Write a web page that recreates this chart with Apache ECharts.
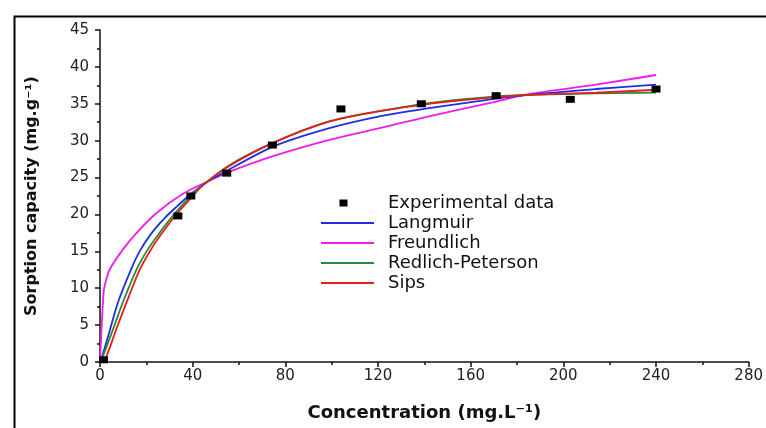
<!DOCTYPE html>
<html>
<head>
<meta charset="utf-8">
<script src="https://cdn.jsdelivr.net/npm/echarts@6/dist/echarts.min.js"></script>
<style>
html,body{margin:0;padding:0;background:#fff;}
#chart{width:766px;height:428px;}
</style>
</head>
<body>
<div id="chart"></div>
<script>
// ---- data ----
const xTicks = [0, 40, 80, 120, 160, 200, 240, 280];
const yTicks = [0, 5, 10, 15, 20, 25, 30, 35, 40, 45];

const experimental = [
  [1.5, 0.3], [33.6, 19.8], [39.2, 22.5], [54.7, 25.6], [74.4, 29.4],
  [104, 34.3], [138.7, 35.0], [171, 36.1], [203, 35.6], [240, 37.0]
];

const langmuir = [
  [0, 0], [1, 0.8], [3.6, 3.6], [7.9, 8.2], [13.6, 12.7], [17.1, 15], [22.1, 17.4],
  [27.9, 19.5], [33.6, 21.2], [38.6, 22.6], [45.7, 24.3], [52.9, 25.6], [74.7, 29.2],
  [99, 31.7], [120.7, 33.3], [142, 34.4], [171, 35.7], [185, 36.2], [214, 37.0], [240, 37.6]
];

const freundlich = [
  [0, 0], [0.6, 4], [1.5, 9.2], [2.2, 10.6], [4.3, 12.6], [10, 15.3], [15.8, 17.5],
  [24.4, 20.2], [35.8, 22.8], [47.4, 24.6], [56, 25.8], [74.7, 27.9], [99, 30.1],
  [120.7, 31.7], [142, 33.3], [171, 35.3], [185, 36.3], [214, 37.6], [240, 38.9]
];

const redlichPeterson = [
  [0, 0], [1.4, 0.9], [5.7, 4.5], [10, 8.2], [15.7, 12.5], [20.7, 15.3], [25.7, 17.5],
  [31.4, 19.8], [37.1, 21.8], [42.9, 23.6], [56, 26.7], [74.7, 29.7], [99, 32.6],
  [120.7, 34.0], [142, 35.1], [171, 36.0], [185, 36.2], [214, 36.4], [240, 36.5]
];

const sips = [
  [0, 0], [2.1, 0.3], [7.1, 4.5], [12.1, 8.6], [17.1, 12.5], [22.1, 15.3], [25.7, 17.0],
  [32.9, 20.0], [38.6, 22.0], [44.3, 23.9], [56, 26.6], [74.7, 29.7], [99, 32.6],
  [120.7, 34.0], [142, 35.0], [171, 35.9], [185, 36.2], [214, 36.5], [240, 36.9]
];

const chart = echarts.init(document.getElementById('chart'), null, {renderer: 'canvas'});
const font = 'DejaVu Sans';
const lineIcon = 'path://M0,-3M53,5M0,0L53,0L53,2L0,2Z';
const squareIcon = 'path://M0,0M53,8M18.5,0.5L26.5,0.5L26.5,7.5L18.5,7.5Z';

function lineSeries(name, data, color) {
  return {
    name: name, type: 'line', data: data, smooth: 0.3,
    showSymbol: false, symbol: 'none', clip: false,
    lineStyle: {color: color, width: 1.8}, itemStyle: {color: color}, z: 3
  };
}

chart.setOption({
  animation: false,
  backgroundColor: '#ffffff',
  grid: {left: 100, top: 30, right: 16, bottom: 66, containLabel: false},
  graphic: [{
    type: 'rect', left: 12, top: 14, z: 0, silent: true,
    shape: {x: 0, y: 0, width: 820, height: 500},
    style: {fill: null, stroke: '#000', lineWidth: 2}
  }],
  legend: {
    orient: 'vertical', left: 316, top: 189, itemGap: 2,
    itemWidth: 53, itemHeight: 8,
    data: [
      {name: 'Experimental data', icon: squareIcon, itemStyle: {color: '#000', borderWidth: 0}},
      {name: 'Langmuir', icon: lineIcon, itemStyle: {color: '#1e2ee0', borderWidth: 0}},
      {name: 'Freundlich', icon: lineIcon, itemStyle: {color: '#ee1cee', borderWidth: 0}},
      {name: 'Redlich-Peterson', icon: lineIcon, itemStyle: {color: '#2a8a35', borderWidth: 0}},
      {name: 'Sips', icon: lineIcon, itemStyle: {color: '#e41e1e', borderWidth: 0}}
    ],
    textStyle: {fontFamily: font, fontSize: 18, color: '#111', padding: [0, 0, 0, 9]}
  },
  xAxis: {
    type: 'value', min: xTicks[0], max: xTicks[xTicks.length - 1], interval: 40,
    name: 'Concentration (mg.L⁻¹)', nameLocation: 'middle', nameGap: 42,
    nameTextStyle: {fontFamily: font, fontSize: 18, fontWeight: 'bold', color: '#111'},
    axisLine: {show: true, onZero: false, lineStyle: {color: '#111', width: 1.5}},
    axisTick: {show: true, length: 5, lineStyle: {color: '#111', width: 1.5}},
    minorTick: {show: true, splitNumber: 2, length: 3, lineStyle: {color: '#111', width: 1.5}},
    splitLine: {show: false},
    axisLabel: {fontFamily: font, fontSize: 15, color: '#222', margin: 7,
      formatter: v => xTicks.includes(v) ? String(v) : ''}
  },
  yAxis: {
    type: 'value', min: yTicks[0], max: yTicks[yTicks.length - 1], interval: 5,
    name: 'Sorption capacity (mg.g⁻¹)', nameLocation: 'middle', nameGap: 60,
    nameTextStyle: {fontFamily: font, fontSize: 16, fontWeight: 'bold', color: '#111'},
    axisLine: {show: true, onZero: false, lineStyle: {color: '#111', width: 1.5}},
    axisTick: {show: true, length: 5, lineStyle: {color: '#111', width: 1.5}},
    minorTick: {show: true, splitNumber: 2, length: 3, lineStyle: {color: '#111', width: 1.5}},
    splitLine: {show: false},
    axisLabel: {fontFamily: font, fontSize: 15, color: '#222', margin: 11,
      formatter: v => yTicks.includes(v) ? String(v) : ''}
  },
  series: [
    {
      name: 'Experimental data', type: 'scatter', data: experimental,
      symbol: 'rect', symbolSize: [9, 7], clip: false,
      itemStyle: {color: '#000', opacity: 1}, z: 5
    },
    lineSeries('Freundlich', freundlich, '#ee1cee'),
    lineSeries('Langmuir', langmuir, '#1e2ee0'),
    lineSeries('Redlich-Peterson', redlichPeterson, '#2a8a35'),
    lineSeries('Sips', sips, '#e41e1e')
  ]
});
</script>
</body>
</html>
